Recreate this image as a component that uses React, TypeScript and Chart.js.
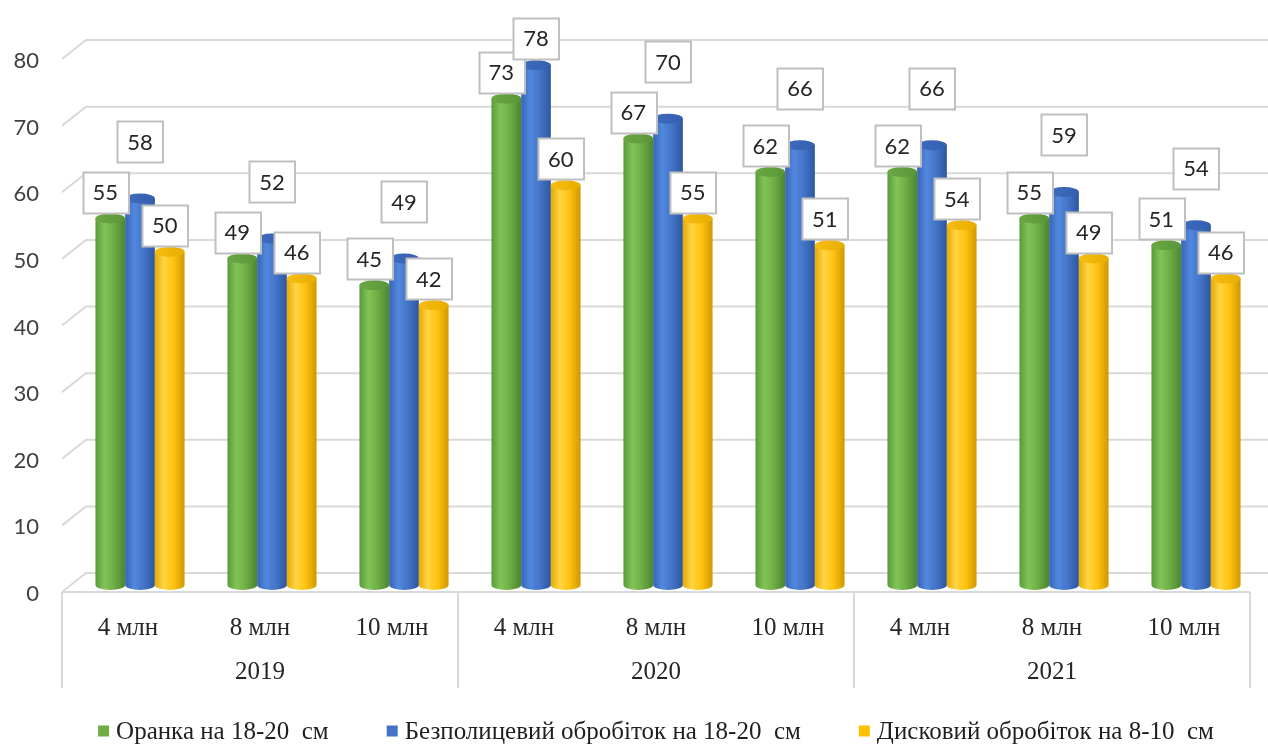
import React, { useEffect, useRef } from "react";
import { Chart, registerables } from "chart.js";

Chart.register(...registerables);

// ---- data ----
const years = ["2019", "2020", "2021"];
const densities = ["4 млн", "8 млн", "10 млн"];
const seriesNames = [
  "Оранка на 18-20  см",
  "Безполицевий обробіток на 18-20  см",
  "Дисковий обробіток на 8-10  см",
];
const ploughing = [55, 49, 45, 73, 67, 62, 62, 55, 51];
const noTillage = [58, 52, 49, 78, 70, 66, 66, 59, 54];
const disking = [50, 46, 42, 60, 55, 51, 54, 49, 46];
const yMin = 0;
const yMax = 80;
const yStep = 10;

// ---- styling ----
const SANS = "Lato, 'Open Sans', sans-serif";
const SERIF = "'Liberation Serif', 'DejaVu Serif', serif";
const GRID = "#d9d9d9";
const DEPTH_X = 24; // how far the back wall sits to the right
const FRONT_DY = 7; // front edge of a gridline below the bar level
const BACK_DY = -12; // back wall gridline above the bar level
const SHIFT = 12; // bars stand halfway into the floor

type Palette = { base: string; edge: string; light: string; mid: string; dark: string; capA: string; capB: string };
const palettes: Palette[] = [
  { base: "#70ad47", edge: "#5b9a3a", light: "#82c457", mid: "#6eae46", dark: "#4b8529", capA: "#6aa843", capB: "#5a9638" },
  { base: "#4472c4", edge: "#3864b3", light: "#5188de", mid: "#4475c9", dark: "#2d56a0", capA: "#3f6cc0", capB: "#345fae" },
  { base: "#ffc000", edge: "#e6aa00", light: "#ffd444", mid: "#ffc30f", dark: "#d09700", capA: "#f7bd12", capB: "#e8ad00" },
];

const labels = years.flatMap((yr) => densities.map((d, i) => [d, i === 1 ? yr : ""]));

function drawCylinder(ctx: CanvasRenderingContext2D, cx: number, top: number, base: number, w: number, p: Palette) {
  const l = cx - w / 2;
  const r = cx + w / 2;
  const ry = 5;
  const g = ctx.createLinearGradient(l, 0, r, 0);
  g.addColorStop(0, p.edge);
  g.addColorStop(0.3, p.light);
  g.addColorStop(0.62, p.mid);
  g.addColorStop(1, p.dark);
  ctx.beginPath();
  ctx.moveTo(l, top);
  ctx.lineTo(l, base);
  ctx.ellipse(cx, base, w / 2, ry, 0, Math.PI, 0, true);
  ctx.lineTo(r, top);
  ctx.closePath();
  ctx.fillStyle = g;
  ctx.fill();
  const cg = ctx.createLinearGradient(l, 0, r, 0);
  cg.addColorStop(0, p.capA);
  cg.addColorStop(1, p.capB);
  ctx.beginPath();
  ctx.ellipse(cx, top, w / 2, ry, 0, 0, Math.PI * 2);
  ctx.fillStyle = cg;
  ctx.fill();
}

function drawValueBox(ctx: CanvasRenderingContext2D, text: string, cx: number, cy: number) {
  ctx.font = `22px ${SANS}`;
  const tw = ctx.measureText(text).width;
  const w = tw + 20;
  const h = 41;
  const x = Math.round(cx - w / 2) + 0.5;
  const y = Math.round(cy - h / 2) + 0.5;
  ctx.fillStyle = "#ffffff";
  ctx.fillRect(x, y, w, h);
  ctx.strokeStyle = "#bfbfbf";
  ctx.lineWidth = 2;
  ctx.strokeRect(x, y, w, h);
  ctx.fillStyle = "#262626";
  ctx.textAlign = "center";
  ctx.textBaseline = "middle";
  ctx.fillText(text, cx, cy + 1);
}

const scenePlugin = {
  id: "cylinderScene",
  beforeDatasetsDraw(chart: any) {
    const { ctx, chartArea, scales } = chart;
    const ys = scales.y;
    const frontLeft = chartArea.left - SHIFT;
    const right = chart.width;
    ctx.save();
    ctx.strokeStyle = GRID;
    ctx.lineWidth = 2;
    ys.ticks.forEach((t: any) => {
      const yb = ys.getPixelForValue(t.value);
      ctx.beginPath();
      ctx.moveTo(frontLeft, yb + FRONT_DY);
      ctx.lineTo(frontLeft + DEPTH_X, yb + BACK_DY);
      ctx.lineTo(right, yb + BACK_DY);
      ctx.stroke();
    });
    chart.data.datasets.forEach((ds: any, di: number) => {
      const meta = chart.getDatasetMeta(di);
      meta.data.forEach((el: any) => {
        drawCylinder(ctx, el.x, el.y, el.base, el.width, palettes[di]);
      });
    });
    ctx.restore();
    return false;
  },
  afterDraw(chart: any) {
    const { ctx, chartArea, scales } = chart;
    const xs = scales.x;
    const ys = scales.y;
    const frontLeft = chartArea.left - SHIFT;
    const frontRight = chartArea.right - SHIFT;
    const floorY = ys.getPixelForValue(0) + FRONT_DY;
    const boxBottom = xs.bottom + 3;
    ctx.save();
    // category axis frame
    ctx.strokeStyle = GRID;
    ctx.lineWidth = 2;
    ctx.beginPath();
    ctx.moveTo(frontLeft, floorY);
    ctx.lineTo(frontRight, floorY);
    ctx.stroke();
    const catW = (chartArea.right - chartArea.left) / labels.length;
    for (let g = 0; g <= years.length; g++) {
      const x = frontLeft + g * densities.length * catW;
      ctx.beginPath();
      ctx.moveTo(x, floorY);
      ctx.lineTo(x, boxBottom);
      ctx.stroke();
    }
    // value boxes
    const top = 38;
    chart.data.datasets.forEach((ds: any, di: number) => {
      const meta = chart.getDatasetMeta(di);
      meta.data.forEach((el: any, i: number) => {
        const text = String(ds.data[i]);
        if (di === 1) {
          const cy = Math.max(top, el.y - 57);
          drawValueBox(ctx, text, el.x, cy);
        } else {
          drawValueBox(ctx, text, el.x - 5, el.y - 6 - 20.5);
        }
      });
    });
    // legend
    ctx.font = `25px ${SERIF}`;
    const sq = 11;
    const gapText = 7;
    const gapItem = 58;
    const widths = chart.data.datasets.map((ds: any) => sq + gapText + ctx.measureText(ds.label).width);
    const total = widths.reduce((a: number, b: number) => a + b, 0) + gapItem * (widths.length - 1);
    let lx = (frontLeft + frontRight) / 2 - total / 2;
    const ly = 732;
    chart.data.datasets.forEach((ds: any, di: number) => {
      ctx.fillStyle = palettes[di].base;
      ctx.fillRect(lx, ly - sq / 2 - 1, sq, sq);
      ctx.fillStyle = "#1f1f1f";
      ctx.textAlign = "left";
      ctx.textBaseline = "middle";
      ctx.fillText(ds.label, lx + sq + gapText, ly);
      lx += widths[di] + gapItem;
    });
    ctx.restore();
  },
};

export default function App() {
  const ref = useRef<HTMLCanvasElement | null>(null);
  useEffect(() => {
    if (!ref.current) return;
    const series = [ploughing, noTillage, disking];
    const chart = new Chart(ref.current, {
      type: "bar",
      data: {
        labels,
        datasets: series.map((data, i) => ({
          label: seriesNames[i],
          data,
          backgroundColor: palettes[i].base,
          barPercentage: 1,
          categoryPercentage: 0.675,
        })),
      },
      options: {
        responsive: false,
        animation: false,
        devicePixelRatio: 1,
        layout: { padding: { top: 52, right: 6, bottom: 60, left: 0 } },
        plugins: { legend: { display: false }, tooltip: { enabled: false } },
        scales: {
          x: {
            grid: { display: false, drawTicks: false },
            border: { display: false },
            ticks: {
              autoSkip: false,
              maxRotation: 0,
              labelOffset: -SHIFT,
              padding: 21,
              color: "#262626",
              font: { family: SERIF, size: 25, lineHeight: 44 / 25 },
            },
            afterFit: (s: any) => {
              s.height = 100;
            },
          },
          y: {
            min: yMin,
            max: yMax,
            grid: { display: false, drawTicks: false },
            border: { display: false },
            ticks: {
              stepSize: yStep,
              padding: 35,
              labelOffset: 9,
              color: "#404040",
              font: { family: SANS, size: 22 },
            },
            afterFit: (s: any) => {
              s.width = 74;
            },
          },
        },
      },
      plugins: [scenePlugin],
    });
    return () => chart.destroy();
  }, []);
  return (
    <div style={{ position: "fixed", left: 0, top: 0, width: 1268, height: 745, background: "#fff" }}>
      <canvas ref={ref} width={1268} height={745} />
    </div>
  );
}
